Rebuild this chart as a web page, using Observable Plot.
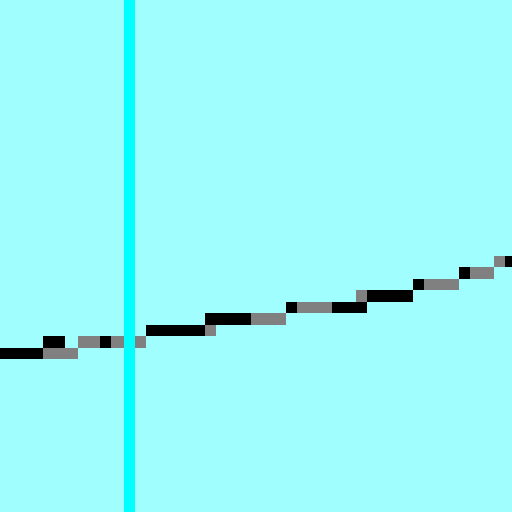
<!DOCTYPE html>
<html>
<head>
<meta charset="utf-8">
<script src="https://cdn.jsdelivr.net/npm/d3@7"></script>
<script src="https://cdn.jsdelivr.net/npm/@observablehq/plot@0.6"></script>
<style>
html, body { margin: 0; padding: 0; background: #a0fffe; }
#chart svg { display: block; }
</style>
</head>
<body>
<div id="chart"></div>
<script>
// Step segments: start, end (x units), level
const blackStart = [0, 43, 100, 146, 205, 286, 332, 367, 413, 459, 505];
const blackEnd   = [43, 65, 111, 205, 251, 297, 367, 413, 424, 470, 512];
const blackLevel = [1, 2, 2, 3, 4, 5, 5, 6, 7, 8, 9];

const grayStart = [43, 78, 111, 205, 251, 297, 356, 424, 470, 494];
const grayEnd   = [78, 100, 146, 216, 286, 332, 367, 459, 494, 505];
const grayLevel = [1, 2, 2, 3, 4, 5, 6, 7, 8, 9];

// Highlight band
const bandStart = [124];
const bandEnd = [135];

const xDomain = [0, 512];
const yDomain = [-13.37, 31.37];

const segs = [];
blackStart.forEach((s, i) => segs.push({x1: s, x2: blackEnd[i], level: blackLevel[i], c: "#000000"}));
grayStart.forEach((s, i) => segs.push({x1: s, x2: grayEnd[i], level: grayLevel[i], c: "#808080"}));
const gray = segs.filter(d => d.c === "#808080");
const black = segs.filter(d => d.c === "#000000");
const band = bandStart.map((s, i) => ({x1: s, x2: bandEnd[i]}));

const chart = Plot.plot({
  width: 512,
  height: 512,
  margin: 0,
  x: {domain: xDomain, axis: null},
  y: {domain: yDomain, axis: null},
  style: {background: "#a0fffe"},
  marks: [
    Plot.rect(gray, {x1: "x1", x2: "x2", y1: d => d.level - 1, y2: d => d.level, fill: "c", shapeRendering: "crispEdges"}),
    Plot.rect(black, {x1: "x1", x2: "x2", y1: d => d.level - 1, y2: d => d.level, fill: "c", shapeRendering: "crispEdges"}),
    Plot.rect(band, {x1: "x1", x2: "x2", y1: yDomain[0], y2: yDomain[1], fill: "#00ffff", shapeRendering: "crispEdges"})
  ]
});
document.getElementById("chart").appendChild(chart);
</script>
</body>
</html>
